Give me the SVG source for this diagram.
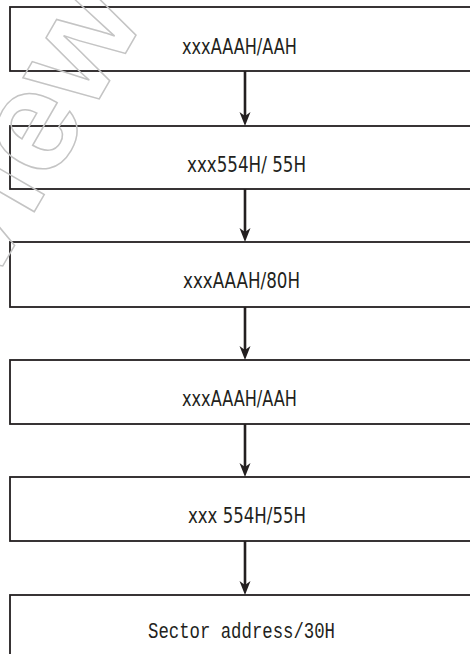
<svg xmlns="http://www.w3.org/2000/svg" width="470" height="654" viewBox="0 0 470 654">
<style>
.box{fill:#fff;stroke:#231f20;stroke-width:1.8}
.lbl{font-family:"DejaVu Sans Condensed","Liberation Sans",sans-serif;font-size:21px;fill:#231f20}
.mono{font-family:"Liberation Mono","DejaVu Sans Mono",monospace;font-size:22px;fill:#231f20}
.conn line{stroke:#231f20;stroke-width:2.6}
.conn path{fill:#231f20}
.wm{font-family:"Liberation Sans",sans-serif;font-weight:bold;font-size:145px;fill:none;stroke:#c4c4c4;stroke-width:1.5}
</style>
<rect width="470" height="654" fill="#fff"/>
<g id="n1"><rect class="box" x="10" y="7" width="470" height="64"/><text class="lbl" x="182" y="54" textLength="115" lengthAdjust="spacingAndGlyphs">xxxAAAH/AAH</text></g>
<g id="n2"><rect class="box" x="10" y="126" width="470" height="63"/><text class="lbl" x="187" y="172" textLength="119" lengthAdjust="spacingAndGlyphs">xxx554H/ 55H</text></g>
<g id="n3"><rect class="box" x="10" y="242" width="470" height="65"/><text class="lbl" x="183" y="288" textLength="117" lengthAdjust="spacingAndGlyphs">xxxAAAH/80H</text></g>
<g id="n4"><rect class="box" x="10" y="360" width="470" height="64"/><text class="lbl" x="182" y="406" textLength="115" lengthAdjust="spacingAndGlyphs">xxxAAAH/AAH</text></g>
<g id="n5"><rect class="box" x="10" y="477" width="470" height="64"/><text class="lbl" x="188" y="523" textLength="118" lengthAdjust="spacingAndGlyphs">xxx 554H/55H</text></g>
<g id="n6"><rect class="box" x="10" y="595" width="470" height="80"/><text class="mono" x="148" y="638" textLength="187" lengthAdjust="spacingAndGlyphs">Sector address/30H</text></g>
<g id="connectors" class="conn">
<line x1="245" y1="71" x2="245" y2="118"/><path d="M245,126 L239.5,112 L245,116 L250.5,112 Z"/>
<line x1="245" y1="189" x2="245" y2="234"/><path d="M245,242 L239.5,228 L245,232 L250.5,228 Z"/>
<line x1="245" y1="307" x2="245" y2="352"/><path d="M245,360 L239.5,346 L245,350 L250.5,346 Z"/>
<line x1="245" y1="424" x2="245" y2="469"/><path d="M245,477 L239.5,463 L245,467 L250.5,463 Z"/>
<line x1="245" y1="541" x2="245" y2="587"/><path d="M245,595 L239.5,581 L245,585 L250.5,581 Z"/>
</g>
<text class="wm" transform="translate(146,18) rotate(-60)" text-anchor="end">Preview</text>
</svg>
